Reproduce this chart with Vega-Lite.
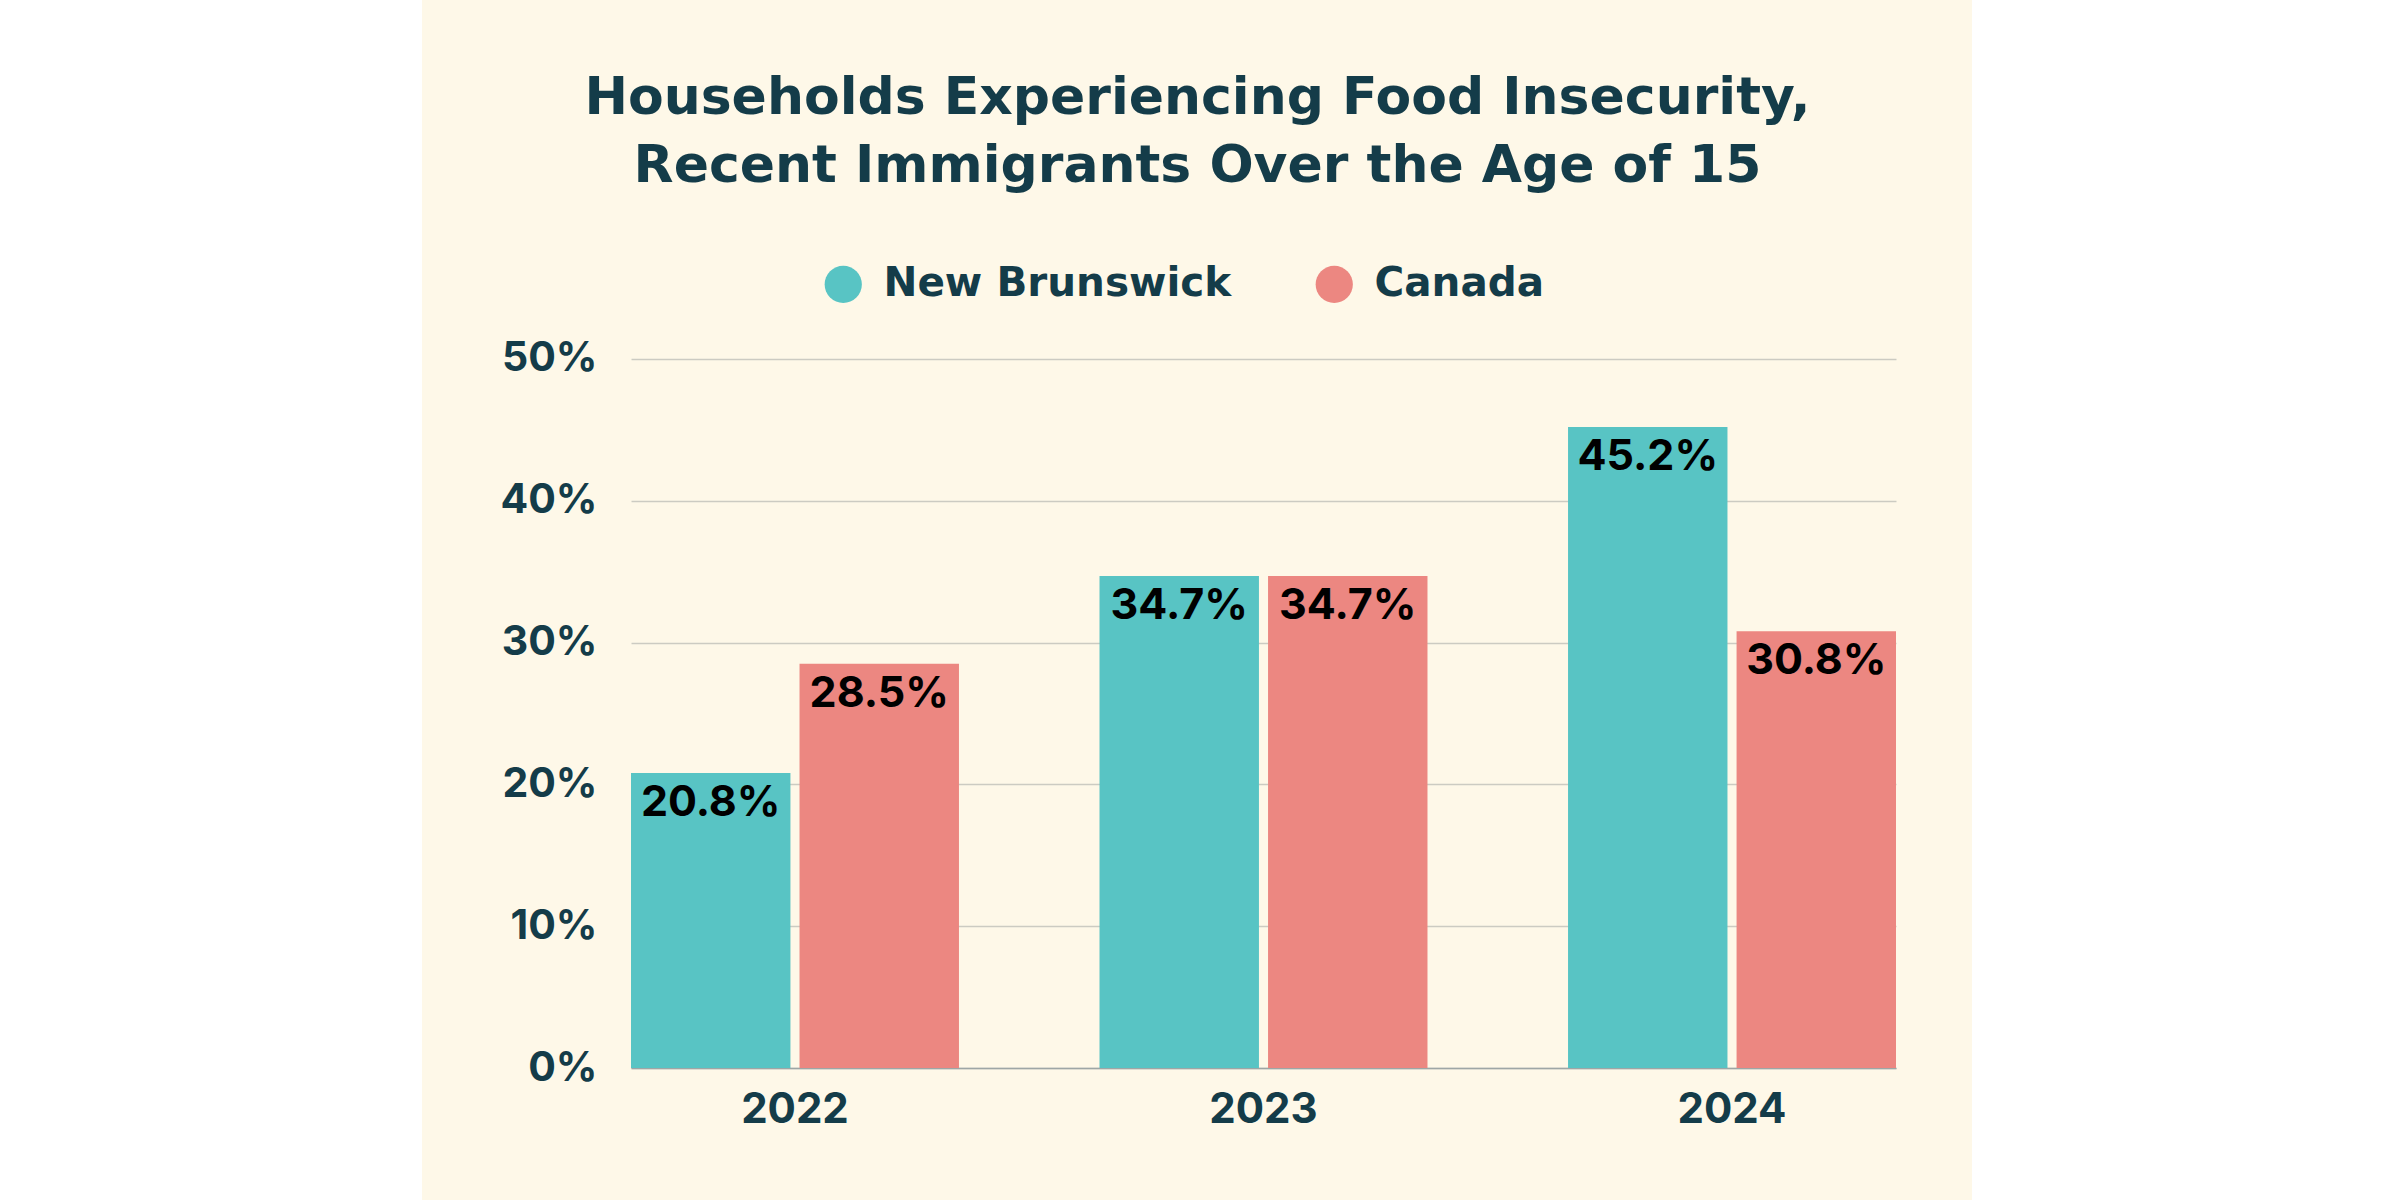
{
  "$schema": "https://vega.github.io/schema/vega-lite/v6.json",
  "background": "#fef8e8",
  "padding": 0,
  "spacing": 0,
  "bounds": "full",
  "config": {
    "view": {"stroke": null},
    "font": "Inter"
  },
  "data": {
    "values": [
      {"Year": "2022", "Region": "New Brunswick", "Rate": 0.208},
      {"Year": "2022", "Region": "Canada", "Rate": 0.285},
      {"Year": "2023", "Region": "New Brunswick", "Rate": 0.347},
      {"Year": "2023", "Region": "Canada", "Rate": 0.347},
      {"Year": "2024", "Region": "New Brunswick", "Rate": 0.452},
      {"Year": "2024", "Region": "Canada", "Rate": 0.308}
    ]
  },
  "hconcat": [
    {
      "width": 422,
      "height": 1200,
      "view": {"fill": "#ffffff", "stroke": null},
      "mark": {"type": "point", "opacity": 0},
      "encoding": {}
    },
    {
      "width": 1265,
      "height": 1068,
      "title": {
        "text": ["Households Experiencing Food Insecurity,", "Recent Immigrants Over the Age of 15"],
        "font": "DejaVu Sans",
        "fontSize": 52,
        "fontWeight": "bold",
        "color": "#143c49",
        "lineHeight": 68,
        "anchor": "middle",
        "dx": -66,
        "offset": -193
      },
      "encoding": {
        "x": {
          "field": "Year",
          "type": "nominal",
          "scale": {"paddingInner": 0.3, "paddingOuter": 0},
          "axis": {
            "title": null,
            "labelAngle": 0,
            "ticks": false,
            "domain": true,
            "domainColor": "#9ea6a6",
            "domainWidth": 1.5,
            "labelPadding": 21,
            "labelFontSize": 42,
            "labelFontWeight": "bold",
            "labelColor": "#143c49",
            "grid": false
          }
        },
        "xOffset": {
          "field": "Region",
          "type": "nominal",
          "sort": ["New Brunswick", "Canada"],
          "scale": {"paddingInner": 0.054, "paddingOuter": 0}
        },
        "y": {
          "field": "Rate",
          "type": "quantitative",
          "scale": {"domain": [0, 0.75317], "nice": false},
          "axis": {
            "values": [0, 0.1, 0.2, 0.3, 0.4, 0.5],
            "format": ".0%",
            "title": null,
            "domain": false,
            "ticks": false,
            "labelPadding": 34,
            "labelFontSize": 41,
            "labelFontWeight": "bold",
            "labelColor": "#143c49",
            "gridColor": "#cccbc2",
            "gridWidth": 1.5,
            "minExtent": 209,
            "maxExtent": 209
          }
        }
      },
      "layer": [
        {
          "mark": {"type": "bar"},
          "encoding": {
            "color": {
              "field": "Region",
              "type": "nominal",
              "scale": {
                "domain": ["New Brunswick", "Canada"],
                "range": ["#58c4c4", "#ec8781"]
              },
              "legend": {
                "orient": "none",
                "legendX": 192,
                "legendY": 264,
                "direction": "horizontal",
                "title": null,
                "symbolType": "circle",
                "symbolSize": 1385,
                "symbolStrokeWidth": 0,
                "symbolOpacity": 1,
                "labelFont": "DejaVu Sans",
                "labelFontSize": 40.5,
                "labelFontWeight": "bold",
                "labelColor": "#143c49",
                "labelOffset": 20,
                "columnPadding": 82,
                "padding": 0,
                "labelLimit": 600
              }
            }
          }
        },
        {
          "mark": {
            "type": "text",
            "dy": 43,
            "baseline": "alphabetic",
            "align": "center",
            "fontSize": 43,
            "fontWeight": "bold",
            "color": "#000000"
          },
          "encoding": {
            "text": {"field": "Rate", "type": "quantitative", "format": ".1%"}
          }
        }
      ]
    },
    {
      "width": 76,
      "height": 1200,
      "mark": {"type": "point", "opacity": 0},
      "encoding": {}
    },
    {
      "width": 428,
      "height": 1200,
      "view": {"fill": "#ffffff", "stroke": null},
      "mark": {"type": "point", "opacity": 0},
      "encoding": {}
    }
  ],
  "resolve": {"legend": {"color": "independent"}}
}
